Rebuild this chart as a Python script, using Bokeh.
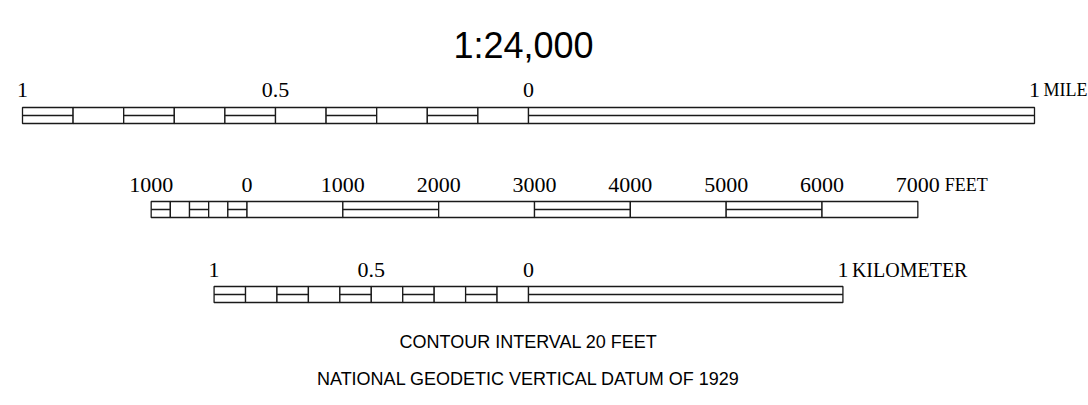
from bokeh.plotting import figure
from bokeh.models import Range1d
from bokeh.embed import file_html
from bokeh.resources import INLINE
from bokeh.core.properties import value

# ---- data ----
TITLE = "1:24,000"
FT_PER_MILE = 5280.0
KM_PER_MILE = 1.609344

MILE_DIVS = [-1.0, -0.9, -0.8, -0.7, -0.6, -0.5, -0.4, -0.3, -0.2, -0.1, 0.0, 1.0]
MILE_SPLIT = [1, 0, 1, 0, 1, 0, 1, 0, 1, 0, 1]
MILE_TICKS = [-1.0, -0.5, 0.0, 1.0]
MILE_LABELS = ["1", "0.5", "0", "1"]
MILE_UNIT = "MILE"

FEET_DIVS = [-1000, -800, -600, -400, -200, 0, 1000, 2000, 3000, 4000, 5000, 6000, 7000]
FEET_SPLIT = [1, 0, 1, 0, 1, 0, 1, 0, 1, 0, 1, 0]
FEET_TICKS = [-1000, 0, 1000, 2000, 3000, 4000, 5000, 6000, 7000]
FEET_LABELS = ["1000", "0", "1000", "2000", "3000", "4000", "5000", "6000", "7000"]
FEET_UNIT = "FEET"

KM_DIVS = [-1.0, -0.9, -0.8, -0.7, -0.6, -0.5, -0.4, -0.3, -0.2, -0.1, 0.0, 1.0]
KM_SPLIT = [1, 0, 1, 0, 1, 0, 1, 0, 1, 0, 1]
KM_TICKS = [-1.0, -0.5, 0.0, 1.0]
KM_LABELS = ["1", "0.5", "0", "1"]
KM_UNIT = "KILOMETER"

NOTES = ["CONTOUR INTERVAL 20 FEET", "NATIONAL GEODETIC VERTICAL DATUM OF 1929"]

# ---- layout ----
W, H = 1088, 405
PX_PER_MILE = 506.0
ZERO_PX = 528.0
FEET_ZERO_MI = -0.5563   # where the feet scale's zero sits on the mile axis
TXT_DY = -8              # vertical nudge for all texts

p = figure(width=W, height=H, output_backend="svg", toolbar_location=None,
           x_range=Range1d(-ZERO_PX / PX_PER_MILE, (W - ZERO_PX) / PX_PER_MILE),
           y_range=Range1d(H, 0), min_border=0,
           x_axis_type=None, y_axis_type=None)
p.grid.visible = False
p.outline_line_color = None
p.background_fill_color = "white"
p.border_fill_color = "white"

LINE = "#1a1a1a"
SERIF = value("Liberation Serif")
SANS = value("Liberation Sans")


def bar(divs_mi, split, top, bot):
    left = divs_mi[:-1]
    right = divs_mi[1:]
    p.quad(left=left, right=right, top=[top] * len(left), bottom=[bot] * len(left),
           fill_color="white", line_color=LINE, line_width=1.3)
    mid = (top + bot) / 2.0
    xs0 = [l for l, s in zip(left, split) if s]
    xs1 = [r for r, s in zip(right, split) if s]
    p.segment(x0=xs0, x1=xs1, y0=[mid] * len(xs0), y1=[mid] * len(xs0),
              line_color=LINE, line_width=1.3)


def labels(ticks_mi, texts, y, unit, unit_offset, unit_size="19px"):
    y = y + TXT_DY
    p.text(x=ticks_mi, y=[y] * len(ticks_mi), text=texts, text_font=SERIF,
           text_font_size="22px", text_align="center", text_baseline="alphabetic",
           text_color="black")
    p.text(x=[ticks_mi[-1]], y=[y], text=[unit], text_font=SERIF,
           text_font_size=unit_size, text_align="left", text_baseline="alphabetic",
           text_color="black", x_offset=unit_offset)


# miles
bar(list(MILE_DIVS), MILE_SPLIT, 107, 123)
labels(MILE_TICKS, MILE_LABELS, 97, MILE_UNIT, 9, "18px")

# feet
feet_x = [FEET_ZERO_MI + f / FT_PER_MILE for f in FEET_DIVS]
feet_ticks = [FEET_ZERO_MI + f / FT_PER_MILE for f in FEET_TICKS]
bar(feet_x, FEET_SPLIT, 201, 217)
labels(feet_ticks, FEET_LABELS, 192, FEET_UNIT, 27, "18px")

# kilometers
km_x = [k / KM_PER_MILE for k in KM_DIVS]
km_ticks = [k / KM_PER_MILE for k in KM_TICKS]
bar(km_x, KM_SPLIT, 286, 302)
labels(km_ticks, KM_LABELS, 277, KM_UNIT, 9, "20px")

# title and notes
p.text(x=[0], y=[53 + TXT_DY], text=[TITLE], text_font=SANS, text_font_size="36px",
       text_align="center", text_baseline="alphabetic", text_color="black", x_offset=-5)
p.text(x=[0, 0], y=[349.5 + TXT_DY, 386.5 + TXT_DY], text=NOTES, text_font=SANS,
       text_font_size="18px", text_align="center", text_baseline="alphabetic",
       text_color="black")

open("out.html", "w").write(file_html(p, INLINE))
